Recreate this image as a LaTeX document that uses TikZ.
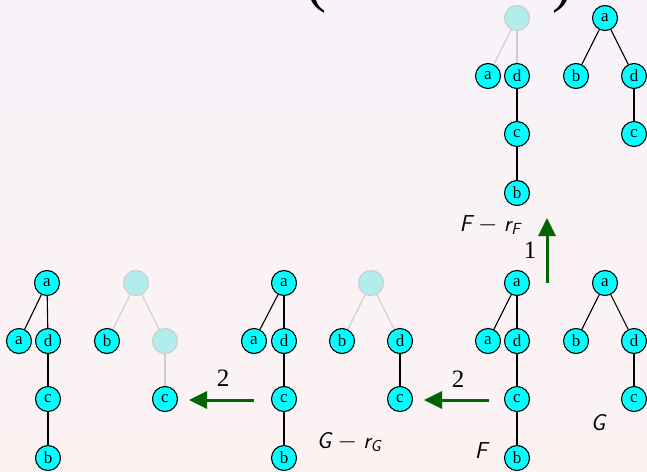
\documentclass[tikz,border=0pt]{standalone}
\usepackage{fontspec}
\newfontfamily\tmsfont{Liberation Serif}
\usetikzlibrary{arrows.meta}
\definecolor{ndfill}{RGB}{0,255,255}
\definecolor{ghostfill}{RGB}{178,236,236}
\definecolor{ghostline}{RGB}{204,204,204}
\definecolor{arrgreen}{RGB}{0,100,0}
\definecolor{bgtop}{RGB}{247,243,249}
\definecolor{bgbot}{RGB}{252,242,242}
\begin{document}
\begin{tikzpicture}[x=1pt,y=-1pt,
  nd/.style={circle,draw=black,fill=ndfill,minimum size=25pt,inner sep=0pt,line width=1.1pt,font=\tmsfont\fontsize{17}{17}\selectfont},
  gh/.style={circle,draw=ghostline,fill=ghostfill,minimum size=25pt,inner sep=0pt,line width=1.1pt},
  ed/.style={draw=black,line width=1.1pt},
  ged/.style={draw=ghostline,line width=1.1pt},
  garrow/.style={draw=arrgreen,line width=3pt,-{Triangle[length=18pt,width=17pt]}},
  numlab/.style={font=\tmsfont\fontsize{25}{30}\selectfont,inner sep=0pt},
  lab/.style={font=\fontsize{23}{27}\selectfont\sffamily\itshape,inner sep=0pt},
  paren/.style={font=\tmsfont\fontsize{60}{70}\selectfont,inner sep=0pt}]
\shade[top color=bgtop,bottom color=bgbot] (0,0) rectangle (647,471);
\useasboundingbox (0,0) rectangle (647,471);
% parentheses (cut off)
\node[paren,anchor=base east] (lp) at (327,1) {(};
\node[paren,anchor=base west] (rp) at (552,1) {)};
% tree 1
\node[nd] (t1a) at (47,283) {a};
\node[nd] (t1a2) at (19,341) {a};
\node[nd] (t1d) at (48,341) {d};
\node[nd] (t1c) at (48,399) {c};
\node[nd] (t1b) at (48,458) {b};
\draw[ed] (t1a) -- (t1a2);
\draw[ed] (t1a) -- (t1d);
\draw[ed] (t1d) -- (t1c);
\draw[ed] (t1c) -- (t1b);
% tree 2 (ghost)
\node[gh] (t2r) at (136,283) {};
\node[nd] (t2b) at (107,341) {b};
\node[gh] (t2g) at (165,341) {};
\node[nd] (t2c) at (165,399) {c};
\draw[ged] (t2r) -- (t2b);
\draw[ged] (t2r) -- (t2g);
\draw[ged] (t2g) -- (t2c);
% tree 3
\node[nd] (t3a) at (284,283) {a};
\node[nd] (t3a2) at (254,341) {a};
\node[nd] (t3d) at (284,341) {d};
\node[nd] (t3c) at (284,399) {c};
\node[nd] (t3b) at (284,458) {b};
\draw[ed] (t3a) -- (t3a2);
\draw[ed] (t3a) -- (t3d);
\draw[ed] (t3d) -- (t3c);
\draw[ed] (t3c) -- (t3b);
% arrow 2 left
\coordinate (a2ls) at (254,400);
\coordinate (a2le) at (189,400);
\draw[garrow] (a2ls) -- (a2le);
\node[numlab] (n2l) at (223,378) {2};
% tree 4 (G - r_G)
\node[gh] (t4r) at (371,283) {};
\node[nd] (t4b) at (342,341) {b};
\node[nd] (t4d) at (400,341) {d};
\node[nd] (t4c) at (400,399) {c};
\draw[ged] (t4r) -- (t4b);
\draw[ged] (t4r) -- (t4d);
\draw[ed] (t4d) -- (t4c);
\node[lab] (lgr) at (349,442) {G\;\textup{$-$}\;r\textsubscript{G}};
% arrow 2 right
\coordinate (a2rs) at (489,400);
\coordinate (a2re) at (424,400);
\draw[garrow] (a2rs) -- (a2re);
\node[numlab] (n2r) at (458,379) {2};
% tree F
\node[nd] (fa) at (517,283) {a};
\node[nd] (fa2) at (488,341) {a};
\node[nd] (fd) at (517,341) {d};
\node[nd] (fc) at (517,399) {c};
\node[nd] (fb) at (517,458) {b};
\draw[ed] (fa) -- (fa2);
\draw[ed] (fa) -- (fd);
\draw[ed] (fd) -- (fc);
\draw[ed] (fc) -- (fb);
\node[lab] (lf) at (481,451) {F};
% tree G
\node[nd] (ga) at (605,283) {a};
\node[nd] (gb) at (576,341) {b};
\node[nd] (gd) at (634,341) {d};
\node[nd] (gc) at (634,399) {c};
\draw[ed] (ga) -- (gb);
\draw[ed] (ga) -- (gd);
\draw[ed] (gd) -- (gc);
\node[lab] (lg) at (598,423) {G};
% arrow 1 up
\coordinate (a1s) at (547,283);
\coordinate (a1e) at (547,218);
\draw[garrow] (a1s) -- (a1e);
\node[numlab] (n1) at (530,250) {1};
\node[lab] (lfr) at (490,225) {F\;\textup{$-$}\;r\textsubscript{F}};
% top tree (F - r_F)
\node[gh] (ur) at (517,18) {};
\node[nd] (ua) at (488,76) {a};
\node[nd] (ud) at (517,76) {d};
\node[nd] (uc) at (517,134) {c};
\node[nd] (ub) at (517,193) {b};
\draw[ged] (ur) -- (ua);
\draw[ged] (ur) -- (ud);
\draw[ed] (ud) -- (uc);
\draw[ed] (uc) -- (ub);
% top tree G
\node[nd] (uga) at (605,18) {a};
\node[nd] (ugb) at (576,76) {b};
\node[nd] (ugd) at (634,76) {d};
\node[nd] (ugc) at (634,134) {c};
\draw[ed] (uga) -- (ugb);
\draw[ed] (uga) -- (ugd);
\draw[ed] (ugd) -- (ugc);
\end{tikzpicture}
\end{document}
